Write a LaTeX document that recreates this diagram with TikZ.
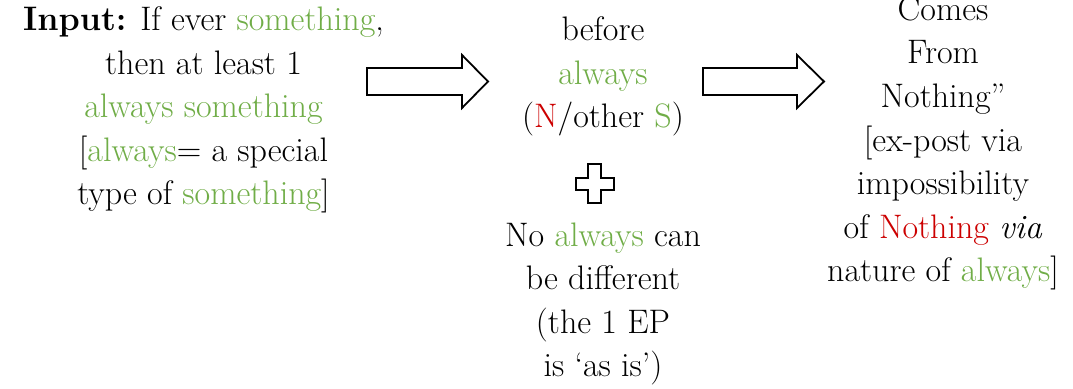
\documentclass[tikz,border=0pt]{standalone}
\usepackage{fontspec}
\definecolor{grn}{HTML}{70AD47}
\definecolor{rdd}{HTML}{CC0000}
\newcommand{\txtg}[1]{\textcolor{grn}{#1}}
\newcommand{\txtr}[1]{\textcolor{rdd}{#1}}
\begin{document}
\begin{tikzpicture}[x=1pt,y=1pt,
  txt/.style={align=center, font=\fontsize{34}{43.6}\selectfont, inner sep=0pt, anchor=base},
  blk/.style={draw=black, line width=1.8pt, fill=white, line join=miter}]
\useasboundingbox (0,0) rectangle (1073,388);
\node[txt] (input) at (203.5,183) {\textbf{Input:} If ever \txtg{something},\\ then at least 1\\ \txtg{always something}\\ {[}\txtg{always}= a special\\ type of \txtg{something}]};
\node[txt] (mid) at (603,260) {before\\ \txtg{always}\\ (\txtr{N}/other \txtg{S})};
\node[txt] (mid2) at (603,11) {No \txtg{always} can\\ be different\\ (the 1 EP\\ is `as is')};
\node[txt] (out) at (943,106) {Comes\\ From\\ Nothing''\\ {[}ex-post via\\ impossibility\\ of \txtr{Nothing} \emph{via}\\ nature of \txtg{always}]};
% block arrows
\coordinate (a1) at (367,306.5);
\coordinate (a2) at (703,306.5);
\draw[blk] (a1) ++(0,13.5) -- ++(95,0) -- ++(0,13) -- (488,306.5) -- (462,280) -- ++(0,13) -- ++(-95,0) -- cycle;
\draw[blk] (a2) ++(0,13.5) -- ++(94,0) -- ++(0,13) -- (824,306.5) -- (797,280) -- ++(0,13) -- ++(-94,0) -- cycle;
% plus sign
\coordinate (pc) at (595,204.5);
\draw[blk] (588,224) -- (601,224) -- (601,210) -- (614,210) -- (614,198) -- (601,198) -- (601,185) -- (588,185) -- (588,198) -- (576,198) -- (576,210) -- (588,210) -- cycle;
\end{tikzpicture}
\end{document}
